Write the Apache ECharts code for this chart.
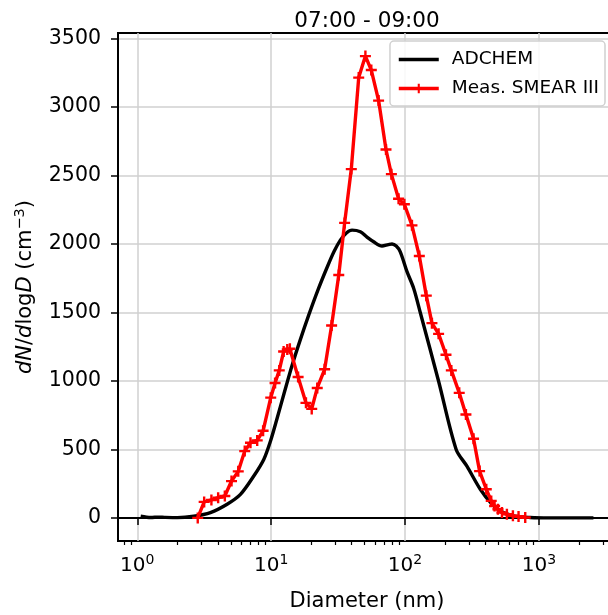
<!DOCTYPE html>
<html>
<head>
<meta charset="utf-8">
<script src="https://cdn.jsdelivr.net/npm/echarts@6/dist/echarts.min.js"></script>
<style>html,body{margin:0;padding:0;background:#fff;}#c{width:608px;height:615px;}</style>
</head>
<body>
<div id="c"></div>
<script>
// ---- data ----
const titleText = '07:00 - 09:00';
const seriesNames = ['ADCHEM', 'Meas. SMEAR III'];
const diamAdchem = [1.06, 1.26, 1.45, 1.6, 1.99, 2.64, 3.52, 4.69, 5.90, 7.42, 8.81, 9.88, 11.1, 12.5, 14.4, 16.5, 19.0, 22.5, 26.2, 29.5, 32.9, 36.5, 40.2, 46.4, 52, 58.3, 67.3, 75, 80, 86, 92.2, 103.5, 116, 130, 178, 241, 290, 365, 446, 514, 646, 861, 1200, 2555];
const adchem =     [12,   3,    6,    4,   2,    12,   39,   100,  172,  306,  427,  560,  730,  910,  1120, 1300, 1475, 1670, 1830, 1945, 2028, 2080, 2101, 2089, 2050, 2016, 1985, 1995, 2000, 1985, 1943, 1798, 1677, 1500, 1000, 500, 378, 209, 100, 51, 15, 3, 0, 0];
const diamMeas = [2.83, 3.16, 3.58, 4.02, 4.51, 5.06, 5.68, 6.35, 7.01, 7.87, 8.71, 9.93, 10.7, 11.5, 12.4, 13.2, 13.8, 15.9, 18.2, 20.1, 22.1, 25.1, 28.3, 32.0, 35.4, 39.7, 45.1, 50.6, 56.0, 63.5, 72.1, 79.1, 89.5, 98.9, 112.7, 127.9, 144.2, 158.9, 178.2, 202.3, 221.8, 254.1, 285.1, 325.1, 360.6, 404.6, 440.6, 466.7, 494.3, 529.7, 576.8, 639.7, 704.7, 790.7];
const meas =     [0, 117, 131, 148, 160, 269, 340, 488, 549, 566, 636, 878, 985, 1077, 1215, 1230, 1235, 1029, 840, 796, 949, 1085, 1405, 1774, 2154, 2547, 3215, 3372, 3270, 3047, 2690, 2510, 2330, 2290, 2136, 1912, 1623, 1422, 1344, 1191, 1077, 913, 755, 578, 342, 209, 124, 87, 63, 39, 27, 15, 10, 3];
const yTicks = [0, 500, 1000, 1500, 2000, 2500, 3000, 3500];
const xMajorTicks = [1, 10, 100, 1000];
const xMinorTicks = [0.8, 0.9, 2, 3, 4, 5, 6, 7, 8, 9, 20, 30, 40, 50, 60, 70, 80, 90, 200, 300, 400, 500, 600, 700, 800, 900, 2000, 3000];
const xName = 'Diameter (nm)';

// ---- chart ----
const FONT = 'DejaVu Sans';
const plusPath = 'path://M0,4.7H4.7V0H7.3V4.7H12V7.3H7.3V12H4.7V7.3H0Z';
const xMin = 0.718, xMax = 3767, yMin = -168.6, yMax = 3540.6;

const chart = echarts.init(document.getElementById('c'), null, {renderer: 'canvas'});
chart.setOption({
  animation: false,
  backgroundColor: '#ffffff',
  title: {
    text: titleText, left: 362, top: 5, textAlign: 'center',
    textStyle: {fontFamily: FONT, fontSize: 21.5, fontWeight: 'normal', color: '#000'}
  },
  legend: {
    data: [
      {name: seriesNames[0], itemStyle: {opacity: 0}, lineStyle: {width: 3.6, color: '#000'}},
      {name: seriesNames[1], lineStyle: {width: 3.6, color: '#ff0000'}}
    ],
    orient: 'vertical', right: 3, top: 41,
    itemWidth: 40, itemHeight: 12, itemGap: 10,
    backgroundColor: 'rgba(255,255,255,0.85)', borderColor: '#d0d0d0', borderWidth: 1.5, borderRadius: 4,
    padding: [9, 6, 8, 7],
    textStyle: {fontFamily: FONT, fontSize: 18.5, color: '#000', padding: [0, 0, 0, 8]}
  },
  grid: {left: 118, right: -8, top: 33, bottom: 74, show: true, borderColor: '#000', borderWidth: 2,
         backgroundColor: 'transparent', containLabel: false, outerBoundsMode: 'none'},
  xAxis: [{
    type: 'log', logBase: 10, min: xMin, max: xMax,
    name: xName, nameLocation: 'middle', nameGap: 50,
    nameTextStyle: {fontFamily: FONT, fontSize: 21, color: '#000'},
    axisLine: {show: true, lineStyle: {color: '#000', width: 2}},
    axisTick: {show: true, inside: false, length: 7, lineStyle: {color: '#000', width: 1.5}, customValues: xMajorTicks},
    axisLabel: {
      customValues: xMajorTicks, margin: 12, color: '#000', fontFamily: FONT, fontSize: 20,
      formatter: v => '10{s|' + Math.round(Math.log10(v)) + '}',
      rich: {s: {fontFamily: FONT, fontSize: 14, padding: [0, 0, 12, 0], color: '#000'}}
    },
    splitLine: {show: true, lineStyle: {color: '#d0d0d0', width: 1.5}}
  }, {
    type: 'log', logBase: 10, min: xMin, max: xMax, position: 'bottom', gridIndex: 0,
    axisLine: {show: false},
    axisTick: {show: true, inside: false, length: 4, lineStyle: {color: '#000', width: 1.2}, customValues: xMinorTicks},
    axisLabel: {show: false},
    splitLine: {show: false}
  }],
  yAxis: {
    type: 'value', min: yMin, max: yMax,
    name: '{i|dN}/{i|d}log{i|D} (cm{s|−3})', nameLocation: 'middle', nameGap: 79, nameRotate: 90,
    nameTextStyle: {
      fontFamily: FONT, fontSize: 21, color: '#000',
      rich: {
        i: {fontFamily: FONT, fontSize: 21, fontStyle: 'italic', color: '#000'},
        s: {fontFamily: FONT, fontSize: 14.5, padding: [0, 0, 11, 0], color: '#000'}
      }
    },
    axisLine: {show: true, lineStyle: {color: '#000', width: 2}},
    axisTick: {show: true, inside: false, length: 7, lineStyle: {color: '#000', width: 1.5}, customValues: yTicks},
    axisLabel: {customValues: yTicks, margin: 17, color: '#000', fontFamily: FONT, fontSize: 20.5, formatter: v => String(v)},
    splitLine: {show: true, lineStyle: {color: '#d0d0d0', width: 1.5}}
  },
  series: [{
    name: seriesNames[0], type: 'line', xAxisIndex: 0,
    data: diamAdchem.map((d, i) => [d, adchem[i]]),
    showSymbol: false, symbol: 'none', smooth: 0.3,
    lineStyle: {color: '#000', width: 3.4}, itemStyle: {color: '#000'}, z: 2
  }, {
    name: seriesNames[1], type: 'line', xAxisIndex: 0,
    data: diamMeas.map((d, i) => [d, meas[i]]),
    symbol: plusPath, symbolSize: 11, showAllSymbol: true,
    lineStyle: {color: '#ff0000', width: 3.4}, itemStyle: {color: '#ff0000'}, z: 3
  }]
});
</script>
</body>
</html>
